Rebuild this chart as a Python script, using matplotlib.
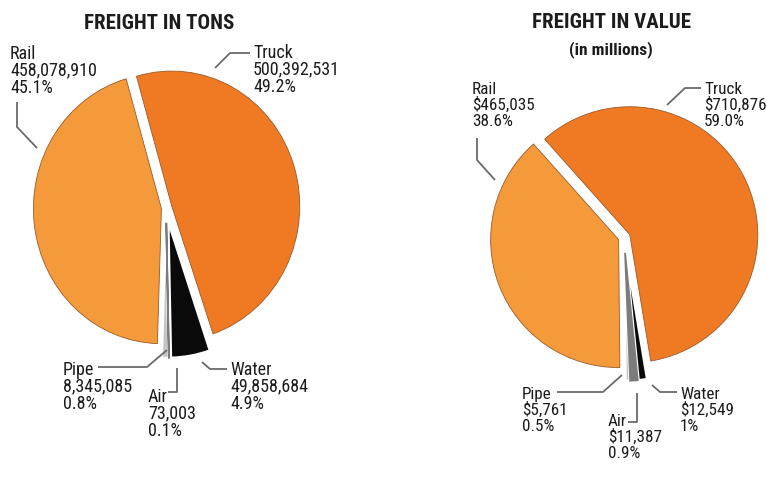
import matplotlib
matplotlib.use("Agg")
import matplotlib.pyplot as plt

# ---------------- data ----------------
modes = ["Truck", "Water", "Air", "Pipe", "Rail"]
tons = [500392531, 49858684, 73003, 8345085, 458078910]
tons_pct = ["49.2%", "4.9%", "0.1%", "0.8%", "45.1%"]
value_m = [710876, 12549, 11387, 5761, 465035]
value_pct = ["59.0%", "1%", "0.9%", "0.5%", "38.6%"]

title_left = "FREIGHT IN TONS"
title_right = "FREIGHT IN VALUE"
subtitle_right = "(in millions)"

colors = ["#f07a24", "#0a0a0a", "#7c7c7c", "#c4c4c4", "#f59a3b"]

FONT = ["Liberation Sans Narrow", "Roboto Condensed", "Liberation Sans", "DejaVu Sans"]
plt.rcParams["font.family"] = FONT

W, H = 767, 491
fig = plt.figure(figsize=(W / 100, H / 100), dpi=100)

TXT = "#1c1c1c"
LINE = "#6a6a6a"


def draw_pie(values, center_px, radius, start, explode, ystretch=1.0):
    """Pie in its own full-figure axes; 1 x-unit = 1 px, 1 y-unit = ystretch px."""
    pax = fig.add_axes([0, 0, 1, 1])
    cx, cy = center_px[0], (H - center_px[1]) / ystretch
    wedges, _ = pax.pie(values, colors=colors, startangle=start, counterclock=False,
                        center=(cx, cy), radius=radius,
                        explode=[e * radius for e in explode],
                        wedgeprops=dict(linewidth=0.6, edgecolor="#9a5a2a"))
    wedges[1].set_edgecolor("white"); wedges[1].set_linewidth(1.6)
    wedges[3].set_edgecolor("white"); wedges[3].set_linewidth(1.6)
    wedges[2].set_edgecolor(colors[2]); wedges[2].set_linewidth(1.3)
    wedges[2].set_zorder(5)
    pax.set_xlim(0, W)
    pax.set_ylim(0, H / ystretch)
    pax.set_aspect("auto")
    pax.axis("off")
    pax.patch.set_alpha(0)
    return wedges


draw_pie(tons, (166, 208), 128, 106, [0.047, 0.11, 0.11, 0.11, 0.036], ystretch=1.055)
draw_pie(value_m, (624, 237.5), 128, 131.7, [0.05, 0.12, 0.12, 0.12, 0.045])

# text / leader layer in pixel coordinates
ax = fig.add_axes([0, 0, 1, 1])
ax.set_xlim(0, W)
ax.set_ylim(0, H)
ax.axis("off")
ax.patch.set_alpha(0)


def P(x, y):
    """pixel (top-left origin) -> data coords"""
    return (x, H - y)


# ---------------- titles ----------------
ax.text(*P(159, 29), title_left, ha="center", va="baseline", fontsize=15,
        fontweight="bold", color=TXT)
ax.text(*P(612, 28), title_right, ha="center", va="baseline", fontsize=15,
        fontweight="bold", color=TXT)
ax.text(*P(611, 54), subtitle_right, ha="center", va="baseline", fontsize=12.5,
        fontweight="bold", color=TXT)


# ---------------- labels ----------------
def label(xy, name, num, pct, prefix="", size=13, step=16.8):
    lines = [name, f"{prefix}{num:,}", pct]
    x, y = xy
    for i, s in enumerate(lines):
        ax.text(*P(x, y + i * step), s, ha="left", va="baseline", fontsize=size,
                color=TXT)


def leader(pts):
    xs = [p[0] for p in pts]
    ys = [H - p[1] for p in pts]
    ax.plot(xs, ys, color=LINE, lw=1.3, solid_capstyle="butt")


# left pie
left_pos = {"Truck": (253, 58), "Water": (230, 375), "Air": (148, 402),
            "Pipe": (63, 375), "Rail": (10, 59)}
left_lead = {"Rail": [(17, 102), (17, 127), (37, 148)],
             "Truck": [(250, 53), (230, 53), (215, 68)],
             "Pipe": [(98, 367), (147, 367), (167, 350)],
             "Air": [(168, 392), (177, 392), (177, 368)],
             "Water": [(227, 369), (210, 369), (202, 362)]}
for m, v, p in zip(modes, tons, tons_pct):
    label(left_pos[m], m, v, p)
    leader(left_lead[m])

# right pie
right_pos = {"Truck": (704, 94), "Water": (680, 399), "Air": (608, 426),
             "Pipe": (522, 399), "Rail": (472, 94)}
right_lead = {"Rail": [(477, 138), (477, 160), (495, 180)],
              "Truck": [(701, 88), (685, 88), (667, 105)],
              "Pipe": [(557, 392), (603, 392), (622, 375)],
              "Air": [(628, 422), (637, 422), (637, 393)],
              "Water": [(677, 392), (660, 392), (652, 385)]}
for m, v, p in zip(modes, value_m, value_pct):
    label(right_pos[m], m, v, p, prefix="$", size=12.3, step=16.0)
    leader(right_lead[m])

fig.savefig("out.png", dpi=100, facecolor="white")
